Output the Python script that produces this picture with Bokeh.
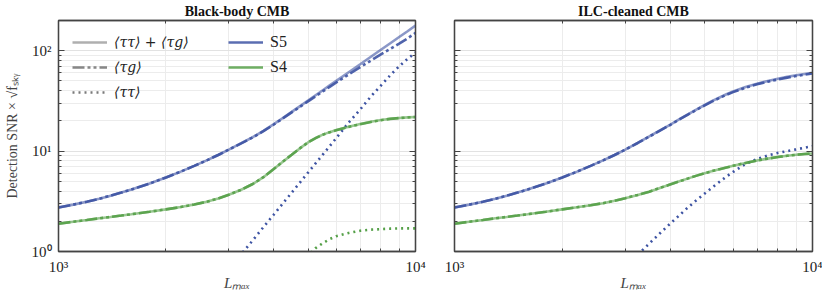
from bokeh.plotting import figure
from bokeh.models import Range1d, FixedTicker, LogAxis, LogScale, Legend, LegendItem
from bokeh.layouts import row
from bokeh.embed import file_html
from bokeh.resources import INLINE

# ---------------- data ----------------
L = [1000, 1100, 1200, 1300, 1400, 1500, 1600, 1800, 2000, 2200, 2400, 2600, 2800, 3000,
     3250, 3500, 3750, 4000, 4250, 4500, 4750, 5000, 5250, 5500, 5750, 6000,
     6500, 7000, 7500, 8000, 8500, 9000, 9500, 10000]

# Black-body CMB
bb_s5_total = [2.74, 2.93, 3.13, 3.35, 3.6, 3.86, 4.14, 4.76, 5.46, 6.25, 7.12, 8.08, 9.15, 10.35,
               12.0, 13.75, 15.9, 18.44, 21.36, 24.58, 28.1, 31.9, 36.0, 40.4, 45.1, 50.1,
               61.1, 73.4, 87.1, 102.2, 118.8, 136.9, 156.5, 178.5]
bb_s5_tg = [2.74, 2.93, 3.13, 3.35, 3.6, 3.86, 4.14, 4.76, 5.46, 6.25, 7.12, 8.08, 9.15, 10.35,
            11.95, 13.69, 15.8, 18.29, 21.15, 24.28, 27.67, 31.31, 35.2, 39.33, 43.69, 48.25,
            57.97, 68.64, 79.76, 91.76, 104.2, 117.7, 132.7, 150.5]
bb_s4_total = [1.89, 1.98, 2.06, 2.14, 2.21, 2.28, 2.35, 2.49, 2.63, 2.77, 2.94, 3.13, 3.37, 3.68,
               4.12, 4.7, 5.5, 6.6, 7.85, 9.2, 10.7, 12.2, 13.5, 14.6, 15.45, 16.2,
               17.5, 18.6, 19.6, 20.4, 21.0, 21.4, 21.7, 21.9]
bb_s4_tg = [1.89, 1.98, 2.06, 2.14, 2.21, 2.28, 2.35, 2.49, 2.63, 2.77, 2.94, 3.13, 3.37, 3.68,
            4.12, 4.7, 5.5, 6.6, 7.85, 9.2, 10.7, 12.2, 13.46, 14.55, 15.39, 16.14,
            17.43, 18.53, 19.53, 20.33, 20.93, 21.33, 21.63, 21.83]
L_bb_s5_tt = [3200, 3500, 3750, 4000, 4250, 4500, 4750, 5000, 5250, 5500, 5750, 6000,
              6500, 7000, 7500, 8000, 8500, 9000, 9500, 10000]
bb_s5_tt = [0.88, 1.29, 1.75, 2.31, 3.01, 3.86, 4.88, 6.11, 7.55, 9.24, 11.2, 13.5,
            19.3, 26.0, 35.0, 45.0, 57.0, 70.0, 83.0, 96.0]
L_bb_s4_tt = [5100, 5250, 5500, 5750, 6000, 6500, 7000, 7500, 8000, 8500, 9000, 9500, 10000]
bb_s4_tt = [0.97, 1.08, 1.21, 1.33, 1.42, 1.53, 1.61, 1.65, 1.67, 1.69, 1.70, 1.70, 1.70]

# ILC-cleaned CMB
ilc_s5_total = [2.74, 2.93, 3.13, 3.35, 3.6, 3.86, 4.14, 4.76, 5.46, 6.25, 7.12, 8.08, 9.15, 10.35,
                12.1, 14.0, 16.1, 18.3, 20.8, 23.4, 26.1, 28.8, 31.6, 34.2, 36.8, 39.2,
                43.5, 47.0, 50.0, 52.6, 54.9, 56.9, 58.7, 60.3]
ilc_s5_tg = [2.74, 2.93, 3.13, 3.35, 3.6, 3.86, 4.14, 4.76, 5.46, 6.25, 7.12, 8.08, 9.15, 10.35,
             12.05, 13.95, 16.03, 18.2, 20.67, 23.24, 25.9, 28.55, 31.3, 33.84, 36.37, 38.7,
             42.85, 46.23, 49.17, 51.7, 53.98, 55.94, 57.7, 59.25]
ilc_s4_total = [1.89, 1.98, 2.06, 2.14, 2.21, 2.28, 2.35, 2.49, 2.63, 2.76, 2.89, 3.03, 3.2, 3.4,
                3.66, 3.94, 4.3, 4.65, 5.0, 5.35, 5.7, 6.03, 6.32, 6.6, 6.87, 7.13,
                7.63, 8.07, 8.42, 8.72, 8.98, 9.19, 9.36, 9.48]
ilc_s4_tg = [1.89, 1.98, 2.06, 2.14, 2.21, 2.28, 2.35, 2.49, 2.63, 2.76, 2.89, 3.03, 3.2, 3.4,
             3.66, 3.94, 4.3, 4.65, 5.0, 5.35, 5.7, 6.03, 6.32, 6.6, 6.87, 7.13,
             7.63, 8.07, 8.42, 8.72, 8.98, 9.19, 9.36, 9.48]
L_ilc_s5_tt = [3250, 3500, 3750, 4000, 4250, 4500, 4750, 5000, 5250, 5500, 5750, 6000,
               6500, 7000, 7500, 8000, 8500, 9000, 9500, 10000]
ilc_s5_tt = [0.93, 1.2, 1.52, 1.89, 2.3, 2.77, 3.26, 3.78, 4.35, 4.95, 5.58, 6.2,
             7.45, 8.35, 9.05, 9.6, 10.0, 10.4, 10.8, 11.2]

legend_terms = ["⟨ττ⟩ + ⟨τg⟩", "⟨τg⟩", "⟨ττ⟩"]
legend_surveys = ["S5", "S4"]

x_ticks = [1000, 10000]
x_minor = [2000, 3000, 4000, 5000, 6000, 7000, 8000, 9000]
x_labels = {1000: "10³", 10000: "10⁴"}
y_ticks = [1, 10, 100]
y_minor = [2, 3, 4, 5, 6, 7, 8, 9, 20, 30, 40, 50, 60, 70, 80, 90, 200]
y_labels = {1: "10⁰", 10: "10¹", 100: "10²"}

BLUE = "#3d53a3"
GREEN = "#55a048"
GRAY = "#7a7a7a"
AX = "#444444"
FONT = "Liberation Serif"
SOLID_A = 0.6
DD = "12 3 3 3 3 3"
DOT = "2 4"
LW = 2.6


def style_axis(ax, is_x, labels=True):
    ax.ticker = FixedTicker(ticks=x_ticks if is_x else y_ticks,
                            minor_ticks=x_minor if is_x else y_minor)
    ax.axis_line_color = AX
    ax.axis_line_width = 1.3
    ax.major_tick_line_color = AX
    ax.minor_tick_line_color = AX
    ax.major_tick_in = 6
    ax.major_tick_out = 0
    ax.minor_tick_in = 3
    ax.minor_tick_out = 0
    ax.major_label_text_font = FONT
    if labels:
        ax.major_label_text_font_size = "15px"
        ax.major_label_text_color = "#222222"
        ax.major_label_standoff = 7
        ax.major_label_overrides = x_labels if is_x else y_labels
    else:
        ax.major_label_text_font_size = "1px"
        ax.major_label_text_alpha = 0
        ax.major_label_standoff = 0


def make_fig(title, left_border, right_border, fw, ylabel):
    p = figure(x_axis_type="log", y_axis_type="log",
               x_range=Range1d(1000, 10000), y_range=Range1d(1, 200),
               frame_width=fw, frame_height=231,
               output_backend="svg", toolbar_location=None,
               min_border_left=left_border, min_border_right=right_border,
               min_border_top=0, min_border_bottom=4)
    p.title.text = title
    p.title.align = "center"
    p.title.text_font = FONT
    p.title.text_font_size = "14px"
    p.title.text_font_style = "bold"
    p.title.text_color = "#111111"
    p.title.standoff = 3
    p.outline_line_color = AX
    p.outline_line_width = 1.3

    xa = p.xaxis[0]
    ya = p.yaxis[0]
    style_axis(xa, True)
    xa.axis_label = "Lₘₐₓ"
    xa.axis_label_text_font = FONT
    xa.axis_label_text_font_size = "15px"
    xa.axis_label_text_font_style = "italic"
    xa.axis_label_standoff = -3
    style_axis(ya, False, labels=ylabel)
    if ylabel:
        ya.axis_label = "Detection SNR × √fₛₖᵧ"
        ya.axis_label_text_font = FONT
        ya.axis_label_text_font_size = "14px"
        ya.axis_label_text_font_style = "normal"
        ya.axis_label_standoff = 9

    ra = LogAxis()
    style_axis(ra, False, labels=False)
    p.add_layout(ra, "right")
    ta = LogAxis()
    style_axis(ta, True, labels=False)
    p.add_layout(ta, "above")

    p.xgrid.ticker = FixedTicker(ticks=x_ticks, minor_ticks=x_minor)
    p.ygrid.ticker = FixedTicker(ticks=y_ticks, minor_ticks=y_minor)
    for g in (p.xgrid[0], p.ygrid[0]):
        g.grid_line_color = "#e2e2e2"
        g.grid_line_width = 1
        g.minor_grid_line_color = "#ececec"
        g.minor_grid_line_width = 1
    return p


# ---------------- left panel ----------------
p1 = make_fig("Black-body CMB", 58, 15, 357, True)
p1.line(L_bb_s4_tt, bb_s4_tt, line_color=GREEN, line_width=LW, line_dash=DOT)
p1.line(L_bb_s5_tt, bb_s5_tt, line_color=BLUE, line_width=LW, line_dash=DOT)
p1.line(L, bb_s4_total, line_color=GREEN, line_width=LW, line_alpha=SOLID_A)
p1.line(L, bb_s4_tg, line_color=GREEN, line_width=LW, line_dash=DD, line_alpha=0.9)
p1.line(L, bb_s5_total, line_color=BLUE, line_width=LW, line_alpha=SOLID_A)
p1.line(L, bb_s5_tg, line_color=BLUE, line_width=LW, line_dash=DD, line_alpha=0.9)

# legend proxies: real data drawn on a hidden (off-frame) y range, so only the
# legend swatch is visible
p1.extra_y_ranges = {"hidden": Range1d(1e6, 1e7)}
p1.extra_y_scales = {"hidden": LogScale()}


def proxy(**kw):
    return p1.line(L, bb_s5_total, y_range_name="hidden", line_width=LW, **kw)


g_tot = proxy(line_color=GRAY, line_alpha=SOLID_A)
g_tg = proxy(line_color=GRAY, line_dash=DD, line_alpha=0.9)
g_tt = proxy(line_color=GRAY, line_dash=DOT)
c_s5 = proxy(line_color=BLUE, line_alpha=0.85)
c_s4 = proxy(line_color=GREEN, line_alpha=0.85)


def mk_legend(items, loc, italic, font, size):
    return Legend(items=items, location=loc, orientation="vertical",
                  label_text_font=font, label_text_font_size=size,
                  label_text_font_style="italic" if italic else "normal",
                  label_text_color="#222222",
                  glyph_width=35, glyph_height=20, label_height=20,
                  spacing=5, padding=0, margin=0, label_standoff=7,
                  border_line_alpha=0, background_fill_alpha=0)


leg1 = mk_legend([LegendItem(label=legend_terms[0], renderers=[g_tot]),
                  LegendItem(label=legend_terms[1], renderers=[g_tg]),
                  LegendItem(label=legend_terms[2], renderers=[g_tt])],
                 (14, 149), True, "DejaVu Serif", "14px")
leg2 = mk_legend([LegendItem(label=legend_surveys[0], renderers=[c_s5]),
                  LegendItem(label=legend_surveys[1], renderers=[c_s4])],
                 (170, 174), False, FONT, "16px")
p1.add_layout(leg1)
p1.add_layout(leg2)

# ---------------- right panel ----------------
p2 = make_fig("ILC-cleaned CMB", 24, 10, 358, False)
p2.line(L_ilc_s5_tt, ilc_s5_tt, line_color=BLUE, line_width=LW, line_dash=DOT)
p2.line(L, ilc_s4_total, line_color=GREEN, line_width=LW, line_alpha=SOLID_A)
p2.line(L, ilc_s4_tg, line_color=GREEN, line_width=LW, line_dash=DD, line_alpha=0.9)
p2.line(L, ilc_s5_total, line_color=BLUE, line_width=LW, line_alpha=SOLID_A)
p2.line(L, ilc_s5_tg, line_color=BLUE, line_width=LW, line_dash=DD, line_alpha=0.9)

layout = row(p1, p2)
open("out.html", "w").write(file_html(layout, INLINE))
